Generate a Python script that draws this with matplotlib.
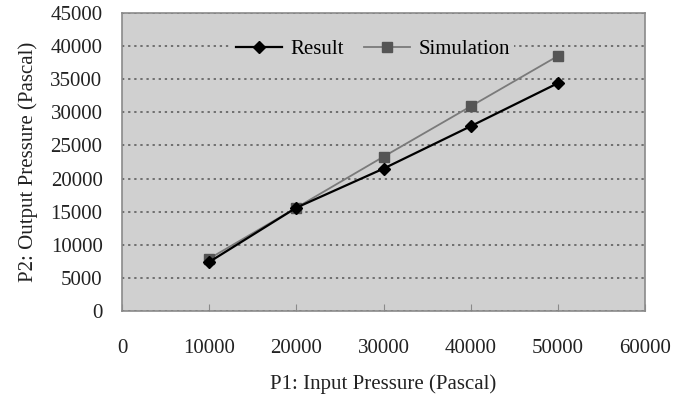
import matplotlib.pyplot as plt
from matplotlib.ticker import MultipleLocator

input_pressure = [10000, 20000, 30000, 40000, 50000]
result = [7400, 15600, 21500, 27900, 34400]
simulation = [7900, 15600, 23300, 30900, 38500]

PLOT_BG = "#d0d0d0"
GRID_COLOR = "#555555"
BORDER_COLOR = "#8a8a8a"
SIM_LINE = "#7a7a7a"
SIM_MARKER = "#555555"
TEXT_COLOR = "#222222"

plt.rcParams["font.family"] = ["Liberation Serif", "DejaVu Serif"]

fig = plt.figure(figsize=(6.73, 3.99), dpi=100)
ax = fig.add_axes([122 / 673, 1 - 311 / 399, (645 - 122) / 673, (311 - 13) / 399])
ax.set_facecolor(PLOT_BG)

ax.plot(input_pressure, result, color="black", linewidth=1.6,
        marker="D", markersize=6.5, label="Result", zorder=4)
ax.plot(input_pressure, simulation, color=SIM_LINE, linewidth=1.3,
        marker="s", markersize=7.5, markerfacecolor=SIM_MARKER,
        markeredgecolor=SIM_MARKER, label="Simulation", zorder=3)

ax.set_xlim(0, 60000)
ax.set_ylim(0, 45000)
ax.xaxis.set_major_locator(MultipleLocator(10000))
ax.yaxis.set_major_locator(MultipleLocator(5000))

ax.yaxis.grid(True, linestyle=(0, (1.5, 2.5)), linewidth=1.1, color=GRID_COLOR)
ax.set_axisbelow(True)

for spine in ax.spines.values():
    spine.set_color(BORDER_COLOR)
    spine.set_linewidth(1.2)

ax.tick_params(axis="x", direction="in", length=5, color=BORDER_COLOR,
               labelsize=15, pad=20, labelcolor=TEXT_COLOR)
ax.tick_params(axis="y", length=0, labelsize=15, pad=14, labelcolor=TEXT_COLOR)

ax.set_xlabel("P1: Input Pressure (Pascal)", fontsize=15, labelpad=12, color=TEXT_COLOR)
ax.set_ylabel("P2: Output Pressure (Pascal)", fontsize=15, labelpad=9, color=TEXT_COLOR)

leg = ax.legend(loc="upper center", bbox_to_anchor=(0.48, 0.96), ncol=2,
                frameon=True, fontsize=15, handlelength=2.2, columnspacing=1.0,
                handletextpad=0.4, borderpad=0.2)
leg.get_frame().set_facecolor(PLOT_BG)
leg.get_frame().set_edgecolor("none")
leg.get_frame().set_alpha(1)

fig.savefig("out.png", dpi=100, facecolor="white")
